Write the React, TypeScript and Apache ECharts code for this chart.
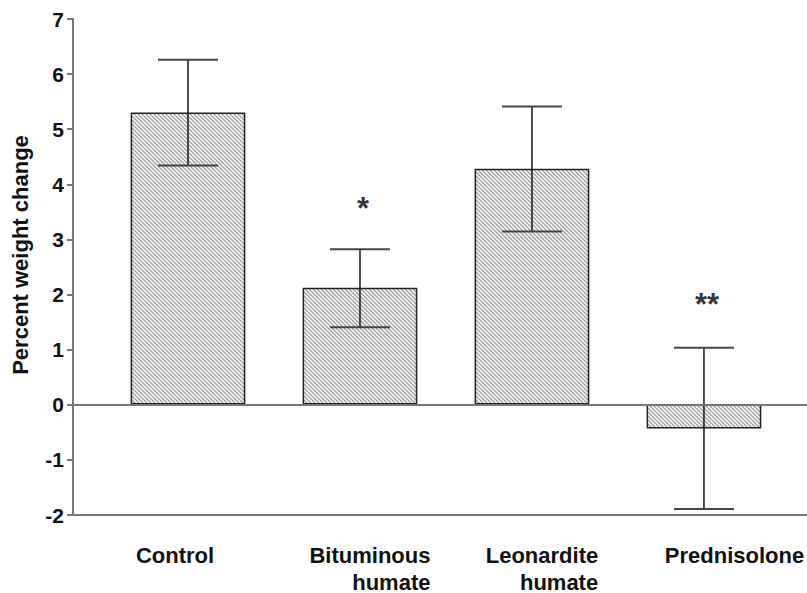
import React, { useEffect, useRef } from "react";
import * as echarts from "echarts";

// ---- data ----
const categories = ["Control", "Bituminous\nhumate", "Leonardite\nhumate", "Prednisolone"];
const means = [5.3, 2.12, 4.28, -0.44];
const errLow = [4.34, 1.4, 3.14, -1.9];
const errHigh = [6.26, 2.82, 5.41, 1.03];
const yMin = -2;
const yMax = 7;
const yInterval = 1;
const sigLabels = ["*", "**"];
const sigCategory = [1, 3];
const sigValue = [3.55, 1.81];
const yTitle = "Percent weight change";

const FONT = "'Liberation Sans', Arial, Helvetica, sans-serif";

function makeHatch(): HTMLCanvasElement {
  const c = document.createElement("canvas");
  c.width = 8;
  c.height = 8;
  const ctx = c.getContext("2d")!;
  ctx.fillStyle = "#f6f6f6";
  ctx.fillRect(0, 0, 8, 8);
  ctx.strokeStyle = "#959595";
  ctx.lineWidth = 1.2;
  for (let k = -8; k <= 8; k += 4) {
    ctx.beginPath();
    ctx.moveTo(k, 0);
    ctx.lineTo(k + 8, 8);
    ctx.stroke();
  }
  return c;
}

// per-category label styling (horizontal shift & line alignment as in the reference)
const labelRich: Record<string, any> = {
  c0: { padding: [0, 26, 0, 0], align: "left" },
  c1: { padding: [0, 0, 0, 20], align: "right" },
  c2: { padding: [0, 0, 0, 20], align: "right" },
  c3: { padding: [0, 0, 0, 61], align: "left" },
};
Object.keys(labelRich).forEach((k) => {
  labelRich[k] = {
    ...labelRich[k],
    fontSize: 22,
    fontWeight: "bold",
    fontFamily: FONT,
    color: "#111",
    lineHeight: 27,
  };
});

export default function App() {
  const ref = useRef<HTMLDivElement>(null);

  useEffect(() => {
    if (!ref.current) return;
    const chart = echarts.init(ref.current, null, { renderer: "svg" });
    const hatch = makeHatch();

    const option: any = {
      animation: false,
      backgroundColor: "#ffffff",
      grid: [
        { left: 102, right: 16, top: 19, bottom: 78 },
        { left: 73, right: 0, top: 19, bottom: 78 },
      ],
      xAxis: [
        {
          type: "category",
          gridIndex: 0,
          data: categories,
          axisLine: { show: false },
          axisTick: { show: false },
          axisLabel: {
            interval: 0,
            margin: 27,
            formatter: (value: string, index: number) =>
              value
                .split("\n")
                .map((l) => `{c${index}|${l}}`)
                .join("\n"),
            rich: labelRich,
          },
        },
        {
          type: "value",
          gridIndex: 1,
          min: 0,
          max: 1,
          axisLine: { show: true, onZero: false, lineStyle: { color: "#777", width: 2 } },
          axisTick: { show: false },
          axisLabel: { show: false },
          splitLine: { show: false },
        },
      ],
      yAxis: [
        {
          type: "value",
          gridIndex: 0,
          min: yMin,
          max: yMax,
          interval: yInterval,
          show: false,
        },
        {
          type: "value",
          gridIndex: 1,
          min: yMin,
          max: yMax,
          interval: yInterval,
          axisLine: { show: true, lineStyle: { color: "#777", width: 2 } },
          axisTick: { show: true, length: 6, lineStyle: { color: "#777", width: 2 } },
          axisLabel: {
            margin: 9,
            fontSize: 21,
            fontWeight: "bold",
            fontFamily: FONT,
            color: "#111",
          },
          splitLine: { show: false },
          name: yTitle,
          nameLocation: "middle",
          nameGap: 42,
          nameTextStyle: {
            fontSize: 22,
            fontWeight: "bold",
            fontFamily: FONT,
            color: "#111",
            padding: [0, 0, 0, 24],
          },
        },
      ],
      series: [
        {
          type: "bar",
          xAxisIndex: 0,
          yAxisIndex: 0,
          data: means,
          barWidth: "66.7%",
          itemStyle: {
            color: { image: hatch, repeat: "repeat" },
            borderColor: "#222",
            borderWidth: 1.5,
          },
          z: 2,
          silent: true,
        },
        {
          type: "custom",
          xAxisIndex: 0,
          yAxisIndex: 0,
          data: categories.map((_, i) => [i, errLow[i], errHigh[i]]),
          encode: { x: 0, y: [1, 2] },
          z: 4,
          silent: true,
          renderItem: (params: any, api: any) => {
            const x = api.value(0);
            const pLo = api.coord([x, api.value(1)]);
            const pHi = api.coord([x, api.value(2)]);
            const hw = 30;
            return {
              type: "group",
              children: [
                {
                  type: "line",
                  shape: { x1: pLo[0], y1: pLo[1], x2: pHi[0], y2: pHi[1] },
                  style: { stroke: "#222", lineWidth: 1.6 },
                },
                {
                  type: "line",
                  shape: { x1: pHi[0] - hw, y1: pHi[1], x2: pHi[0] + hw, y2: pHi[1] },
                  style: { stroke: "#444", lineWidth: 2 },
                },
                {
                  type: "line",
                  shape: { x1: pLo[0] - hw, y1: pLo[1], x2: pLo[0] + hw, y2: pLo[1] },
                  style: { stroke: "#444", lineWidth: 2 },
                },
              ],
            };
          },
        },
        {
          type: "scatter",
          xAxisIndex: 0,
          yAxisIndex: 0,
          symbolSize: 0,
          silent: true,
          z: 5,
          data: sigCategory.map((c, i) => [c, sigValue[i]]),
          label: {
            show: true,
            position: "inside",
            offset: [3, 0],
            formatter: (p: any) => sigLabels[p.dataIndex],
            fontSize: 31,
            fontWeight: "bold",
            fontFamily: FONT,
            color: "#000",
          },
        },
        {
          type: "line",
          xAxisIndex: 1,
          yAxisIndex: 1,
          data: [[0.5, 0]],
          symbol: "none",
          lineStyle: { opacity: 0 },
          silent: true,
          z: 3,
          markLine: {
            silent: true,
            symbol: "none",
            label: { show: false },
            lineStyle: { color: "#777", width: 2, type: "solid" },
            data: [{ yAxis: 0 }],
          },
        },
      ],
    };

    chart.setOption(option);
    return () => chart.dispose();
  }, []);

  return (
    <div
      ref={ref}
      style={{ position: "absolute", left: 0, top: 0, width: 807, height: 593 }}
    />
  );
}
